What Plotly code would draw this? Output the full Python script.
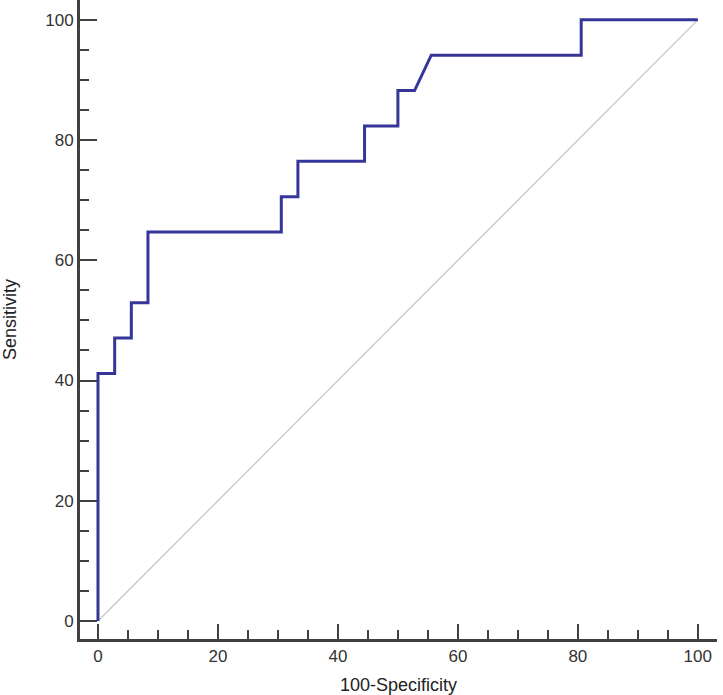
import plotly.graph_objects as go

# ROC curve data (100-Specificity vs Sensitivity)
fpr = [0, 0, 2.78, 2.78, 5.56, 5.56, 8.33, 8.33, 30.56, 30.56, 33.33, 33.33,
       44.44, 44.44, 50.0, 50.0, 52.78, 55.56, 80.56, 80.56, 100]
tpr = [0, 41.18, 41.18, 47.06, 47.06, 52.94, 52.94, 64.71, 64.71, 70.59, 70.59,
       76.47, 76.47, 82.35, 82.35, 88.24, 88.24, 94.12, 94.12, 100, 100]
ref_x = [0, 100]
ref_y = [0, 100]
tick_vals = [0, 20, 40, 60, 80, 100]
tick_text = ["0", "20", "40", "60", "80", "100"]

FONT = "Liberation Sans, Arial, sans-serif"

fig = go.Figure()
fig.add_trace(go.Scatter(x=ref_x, y=ref_y, mode="lines",
                         line=dict(color="#c4c4c4", width=1.2),
                         hoverinfo="skip", showlegend=False))
fig.add_trace(go.Scatter(x=fpr, y=tpr, mode="lines",
                         line=dict(color="#36369a", width=3),
                         showlegend=False))

axis_common = dict(
    showgrid=False, zeroline=False, automargin=False,
    showline=True, linecolor="#404040", linewidth=3,
    ticks="inside", tickwidth=2, tickcolor="#404040",
    tickvals=tick_vals, ticktext=tick_text,
    tickfont=dict(family=FONT, size=17, color="#333333"),
    minor=dict(ticks="inside", dtick=5, ticklen=9, tickwidth=2, tickcolor="#404040"),
)

fig.update_xaxes(range=[-3, 103.2], ticklen=15,
                 title=dict(text="100-Specificity", standoff=14,
                            font=dict(family=FONT, size=18, color="#222222")),
                 **axis_common)
fig.update_yaxes(range=[-3, 103.3], ticklen=17,
                 title=dict(text="Sensitivity", standoff=24,
                            font=dict(family=FONT, size=18, color="#222222")),
                 **axis_common)

fig.update_layout(
    width=723, height=695,
    margin=dict(l=80, r=6, t=0, b=56),
    paper_bgcolor="white", plot_bgcolor="white",
)

fig.write_html("out.html", config={"displayModeBar": False},
               post_script="document.body.style.margin='0';document.body.style.overflow='hidden';")
